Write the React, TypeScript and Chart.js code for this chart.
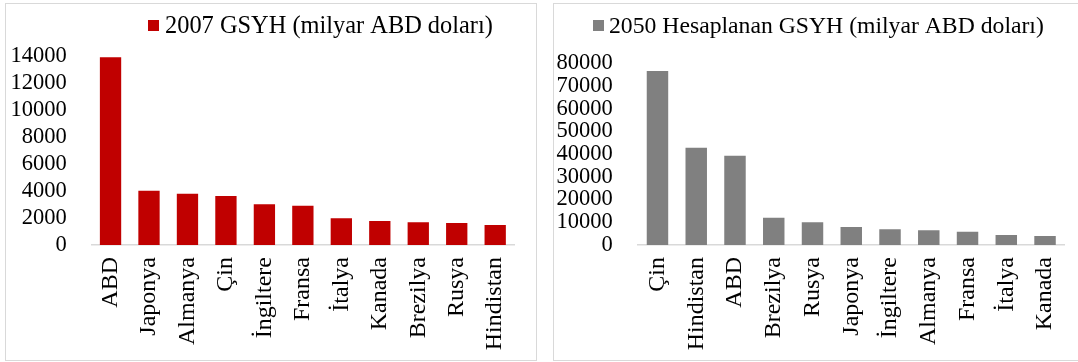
import React, { useEffect, useRef } from "react";
import { Chart, registerables } from "chart.js";

Chart.register(...registerables);

// ---- Data ----
const countries2007 = ["ABD", "Japonya", "Almanya", "Çin", "İngiltere", "Fransa", "İtalya", "Kanada", "Brezilya", "Rusya", "Hindistan"];
const gdp2007 = [13950, 4030, 3810, 3640, 3020, 2920, 1980, 1780, 1685, 1630, 1485];
const label2007 = "2007 GSYH (milyar ABD doları)";
const axis2007 = { max: 14000, step: 2000 };

const countries2050 = ["Çin", "Hindistan", "ABD", "Brezilya", "Rusya", "Japonya", "İngiltere", "Almanya", "Fransa", "İtalya", "Kanada"];
const gdp2050 = [76600, 42850, 39330, 12020, 9980, 7930, 6900, 6460, 5870, 4400, 3960];
const label2050 = "2050 Hesaplanan GSYH (milyar ABD doları)";
const axis2050 = { max: 80000, step: 10000 };

const FONT_FAMILY = "'Liberation Serif', 'Times New Roman', serif";
const Y_FONT = 22.5;
const X_FONT = 24;

const legendPlugin = {
  id: "customLegend",
  afterDraw(chart: any, _args: any, opts: any) {
    const ctx = chart.ctx;
    const ds = chart.data.datasets[0];
    ctx.save();
    ctx.fillStyle = ds.backgroundColor;
    ctx.fillRect(opts.boxX, opts.boxY, opts.boxSize, opts.boxSize);
    ctx.fillStyle = "#000";
    ctx.font = `${opts.fontSize}px ${FONT_FAMILY}`;
    ctx.textBaseline = "middle";
    ctx.textAlign = "left";
    ctx.fillText(ds.label, opts.textX, opts.textY);
    ctx.restore();
  },
};

type PanelProps = {
  labels: string[];
  values: number[];
  label: string;
  color: string;
  axis: { max: number; step: number };
  left: number;
  width: number;
  areaLeft: number;
  areaTop: number;
  padRight: number;
  tickPad: number;
  legend: { boxX: number; boxY: number; boxSize: number; textX: number; textY: number; fontSize: number };
};

const CANVAS_H = 356;
const X_AXIS_H = 115;

function Panel(p: PanelProps) {
  const ref = useRef<HTMLCanvasElement | null>(null);
  useEffect(() => {
    if (!ref.current) return;
    const chart = new Chart(ref.current, {
      type: "bar",
      data: {
        labels: p.labels,
        datasets: [
          {
            label: p.label,
            data: p.values,
            backgroundColor: p.color,
            borderWidth: 0,
            categoryPercentage: 1,
            barPercentage: 0.554,
          },
        ],
      },
      plugins: [legendPlugin],
      options: {
        responsive: false,
        animation: false,
        events: [],
        layout: { padding: { top: p.areaTop, right: p.padRight, left: 0, bottom: 0 } },
        plugins: {
          legend: { display: false },
          tooltip: { enabled: false },
          customLegend: p.legend,
        } as any,
        scales: {
          x: {
            grid: { display: false, drawTicks: false },
            border: { display: true, color: "#d9d9d9", width: 1.5 },
            ticks: {
              autoSkip: false,
              minRotation: 90,
              maxRotation: 90,
              padding: 12,
              color: "#000",
              font: { family: FONT_FAMILY, size: X_FONT },
            },
            afterFit: (s: any) => {
              s.height = X_AXIS_H;
            },
          },
          y: {
            min: 0,
            max: p.axis.max,
            grid: { display: false, drawTicks: false },
            border: { display: false },
            ticks: {
              stepSize: p.axis.step,
              autoSkip: false,
              padding: p.tickPad,
              color: "#000",
              font: { family: FONT_FAMILY, size: Y_FONT },
              callback: (v: any) => String(v),
            },
            afterFit: (s: any) => {
              s.width = p.areaLeft;
            },
          },
        },
      },
    });
    return () => chart.destroy();
  }, []);
  return (
    <div
      style={{
        position: "absolute",
        left: p.left,
        top: 3,
        width: p.width,
        height: CANVAS_H + 2,
        border: "1px solid #d9d9d9",
        boxSizing: "border-box",
        background: "#fff",
      }}
    >
      <canvas
        ref={ref}
        width={p.width - 2}
        height={CANVAS_H}
        style={{ display: "block", width: p.width - 2, height: CANVAS_H }}
      />
    </div>
  );
}

export default function App() {
  useEffect(() => {
    document.body.style.margin = "0";
    document.body.style.overflow = "hidden";
  }, []);
  return (
    <div style={{ position: "relative", width: 1078, height: 362, overflow: "hidden", background: "#fff" }}>
      <Panel
        labels={countries2007}
        values={gdp2007}
        label={label2007}
        color="#C00000"
        axis={axis2007}
        left={5}
        width={532}
        areaLeft={85.3}
        areaTop={52.5}
        padRight={0}
        tickPad={24.6}
        legend={{ boxX: 142, boxY: 16, boxSize: 11, textX: 159, textY: 23, fontSize: 24.4 }}
      />
      <Panel
        labels={countries2050}
        values={gdp2050}
        label={label2050}
        color="#808080"
        axis={axis2050}
        left={553}
        width={534}
        areaLeft={84.1}
        areaTop={59.3}
        padRight={3.6}
        tickPad={25.4}
        legend={{ boxX: 39, boxY: 16, boxSize: 11, textX: 55, textY: 23, fontSize: 23.7 }}
      />
    </div>
  );
}
